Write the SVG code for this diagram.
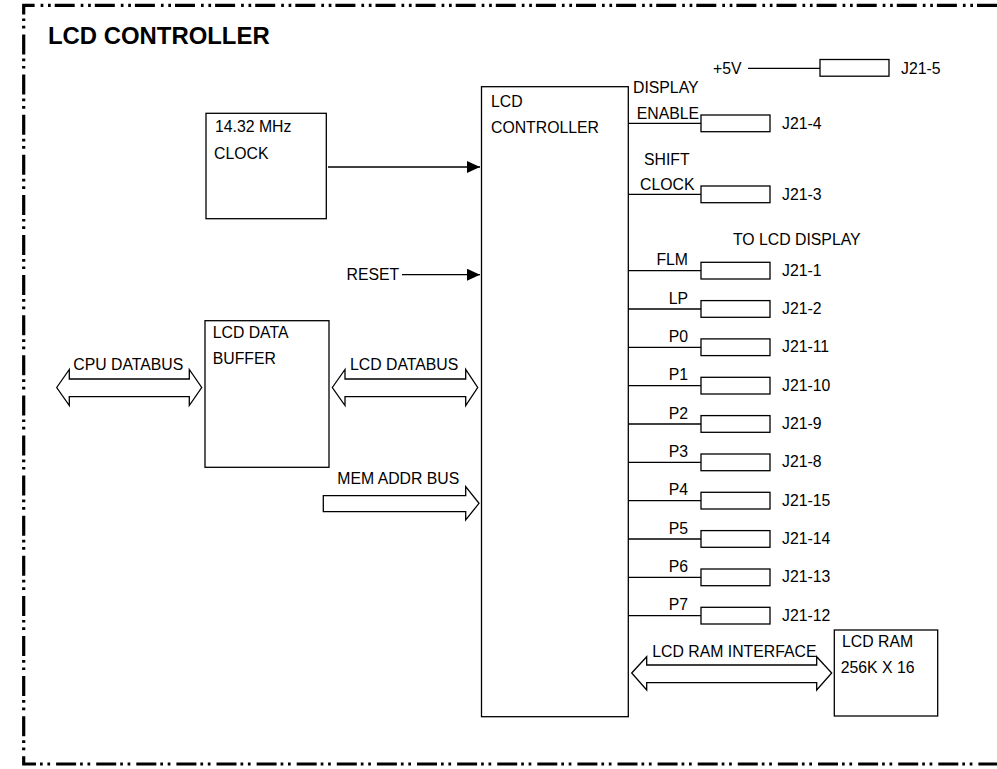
<svg xmlns="http://www.w3.org/2000/svg" width="997" height="769" viewBox="0 0 997 769">
<style>
text{font-family:"Liberation Sans",Arial,sans-serif;font-size:15.8px;fill:#000}
.title{font-size:23.9px;font-weight:bold}
.box{fill:#fff;stroke:#000;stroke-width:1.3}
.ln{fill:none;stroke:#000;stroke-width:1.3}
.bus{fill:#fff;stroke:#000;stroke-width:1.3;stroke-linejoin:miter}
.end{text-anchor:end}
.border{fill:none;stroke:#000;stroke-width:3.2;stroke-dasharray:20 4 2.7 4.7 2.7 6}
</style>
<defs>
<marker id="ah" markerWidth="13" markerHeight="12" refX="13" refY="6" orient="auto" markerUnits="userSpaceOnUse">
<path d="M0,0 L13,6 L0,12 Z" fill="#000"/>
</marker>
</defs>
<rect width="997" height="769" fill="#fff"/>
<path class="border" d="M997,5.3 H23.7 V764 H997"/>
<text class="title" x="48" y="44">LCD CONTROLLER</text>

<g id="connectors">
<line class="ln" x1="328" y1="167" x2="480" y2="167" marker-end="url(#ah)"/>
<line class="ln" x1="402" y1="274.7" x2="480" y2="274.7" marker-end="url(#ah)"/>
<text x="346.5" y="280">RESET</text>
<path class="bus" d="M56.7,387.5 L69.3,369.5 V379 H189.3 V369.5 L201.7,387.5 L189.3,405.5 V396.7 H69.3 V405.5 Z"/>
<text x="73.3" y="370">CPU DATABUS</text>
<path class="bus" d="M332.3,387.5 L345,369.5 V379 H465.7 V369.5 L477.7,387.5 L465.7,405.5 V396.7 H345 V405.5 Z"/>
<text x="350" y="370">LCD DATABUS</text>
<path class="bus" d="M323.3,495.7 H465.7 V486.7 L479,503.3 L465.7,520 V511.7 H323.3 Z"/>
<text x="337.3" y="484.3">MEM ADDR BUS</text>
<path class="bus" d="M631.7,673 L646.7,656.7 V665 H816.7 V656.7 L831.7,673 L816.7,690 V682.7 H646.7 V690 Z"/>
<text x="652.3" y="657.3">LCD RAM INTERFACE</text>
<line class="ln" x1="748" y1="68.3" x2="820" y2="68.3"/>
<line class="ln" x1="628" y1="123.3" x2="701" y2="123.3"/>
<line class="ln" x1="628" y1="194.3" x2="701" y2="194.3"/>
<line class="ln" x1="628" y1="270.7" x2="701" y2="270.7"/>
<line class="ln" x1="628" y1="309" x2="701" y2="309"/>
<line class="ln" x1="628" y1="347.3" x2="701" y2="347.3"/>
<line class="ln" x1="628" y1="385.7" x2="701" y2="385.7"/>
<line class="ln" x1="628" y1="424" x2="701" y2="424"/>
<line class="ln" x1="628" y1="462.4" x2="701" y2="462.4"/>
<line class="ln" x1="628" y1="500.7" x2="701" y2="500.7"/>
<line class="ln" x1="628" y1="539" x2="701" y2="539"/>
<line class="ln" x1="628" y1="577.4" x2="701" y2="577.4"/>
<line class="ln" x1="628" y1="615.7" x2="701" y2="615.7"/>
</g>

<g id="clock">
<rect class="box" x="206" y="113.3" width="120.3" height="105.4"/>
<text x="215" y="132.3">14.32 MHz</text>
<text x="214" y="159">CLOCK</text>
</g>
<g id="buffer">
<rect class="box" x="205" y="320.7" width="124" height="146.6"/>
<text x="212.7" y="338.3">LCD DATA</text>
<text x="212.7" y="364.3">BUFFER</text>
</g>
<g id="controller">
<rect class="box" x="481.5" y="86.7" width="146.8" height="630"/>
<text x="491" y="106.7">LCD</text>
<text x="491" y="133">CONTROLLER</text>
</g>
<g id="ram">
<rect class="box" x="834.3" y="630" width="103.4" height="86"/>
<text x="842" y="646.7">LCD RAM</text>
<text x="840.7" y="673.3">256K X 16</text>
</g>

<g id="pin-5v">
<text x="713" y="74">+5V</text>
<rect class="box" x="820" y="59.5" width="69" height="16.7"/>
<text x="901" y="74">J21-5</text>
</g>
<g id="pin-enable">
<text x="633" y="93">DISPLAY</text>
<text x="636.7" y="119.3">ENABLE</text>
<rect class="box" x="701" y="115" width="69" height="16.7"/>
<text x="782" y="129">J21-4</text>
</g>
<g id="pin-shift">
<text x="644" y="165">SHIFT</text>
<text x="640" y="190">CLOCK</text>
<rect class="box" x="701" y="186" width="69" height="16.7"/>
<text x="782" y="200">J21-3</text>
</g>
<text x="733" y="245">TO LCD DISPLAY</text>
<g id="pin-flm"><text class="end" x="688" y="265.2">FLM</text><rect class="box" x="701" y="262.3" width="69" height="16.7"/><text x="782" y="275.7">J21-1</text></g>
<g id="pin-lp"><text class="end" x="688" y="303.5">LP</text><rect class="box" x="701" y="300.6" width="69" height="16.7"/><text x="782" y="314">J21-2</text></g>
<g id="pin-p0"><text class="end" x="688" y="341.8">P0</text><rect class="box" x="701" y="338.9" width="69" height="16.7"/><text x="782" y="352.3">J21-11</text></g>
<g id="pin-p1"><text class="end" x="688" y="380.2">P1</text><rect class="box" x="701" y="377.3" width="69" height="16.7"/><text x="782" y="390.7">J21-10</text></g>
<g id="pin-p2"><text class="end" x="688" y="418.5">P2</text><rect class="box" x="701" y="415.6" width="69" height="16.7"/><text x="782" y="429">J21-9</text></g>
<g id="pin-p3"><text class="end" x="688" y="456.9">P3</text><rect class="box" x="701" y="454" width="69" height="16.7"/><text x="782" y="467.4">J21-8</text></g>
<g id="pin-p4"><text class="end" x="688" y="495.2">P4</text><rect class="box" x="701" y="492.3" width="69" height="16.7"/><text x="782" y="505.7">J21-15</text></g>
<g id="pin-p5"><text class="end" x="688" y="533.5">P5</text><rect class="box" x="701" y="530.6" width="69" height="16.7"/><text x="782" y="544">J21-14</text></g>
<g id="pin-p6"><text class="end" x="688" y="571.9">P6</text><rect class="box" x="701" y="569" width="69" height="16.7"/><text x="782" y="582.4">J21-13</text></g>
<g id="pin-p7"><text class="end" x="688" y="610.2">P7</text><rect class="box" x="701" y="607.3" width="69" height="16.7"/><text x="782" y="620.7">J21-12</text></g>
</svg>
